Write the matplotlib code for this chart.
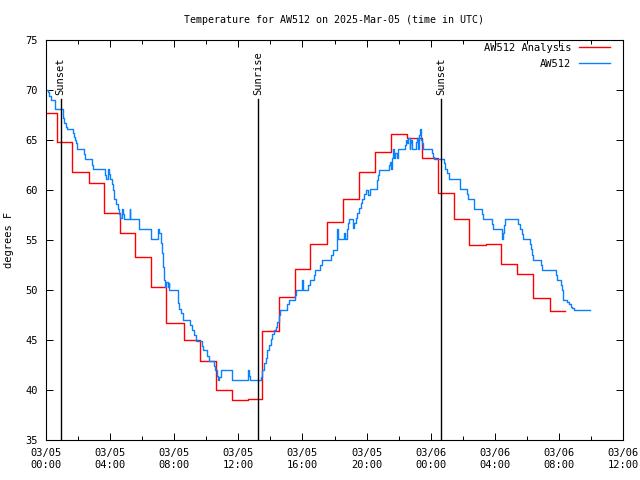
import matplotlib
matplotlib.use("Agg")
import matplotlib.pyplot as plt
from matplotlib.ticker import MultipleLocator, FuncFormatter

# hours since 2025-03-05 00:00 UTC
analysis_hours = [0.00, 0.66, 1.63, 2.67, 3.60, 4.59, 5.57, 6.56, 7.49, 8.58,
                  9.60, 10.60, 11.63, 12.60, 13.49, 14.52, 15.56, 16.49, 17.52,
                  18.50, 19.51, 20.53, 21.52, 22.53, 23.46, 24.46, 25.43, 26.42,
                  27.45, 28.39, 29.40, 30.40, 31.43, 32.38]
analysis_temp = [67.7, 64.8, 61.8, 60.7, 57.7, 55.7, 53.3, 50.3, 46.7, 45.0,
                 42.9, 40.0, 39.0, 39.1, 45.9, 49.3, 52.1, 54.6, 56.8,
                 59.1, 61.8, 63.8, 65.6, 65.2, 63.2, 59.7, 57.1, 54.5,
                 54.6, 52.6, 51.6, 49.2, 47.9, 47.9]

obs_hours = [0.00, 0.14, 0.20, 0.31, 0.56, 1.04, 1.07, 1.14, 1.22, 1.28,
             1.66, 1.74, 1.80, 1.86, 1.91, 2.38, 2.44, 2.87, 2.94, 3.66,
             3.77, 3.87, 3.93, 4.02, 4.12, 4.18, 4.25, 4.39, 4.47, 4.55,
             4.64, 4.74, 4.80, 4.84, 5.21, 5.26, 5.82, 6.56, 6.97, 7.08,
             7.18, 7.24, 7.32, 7.39, 7.43, 7.49, 7.59, 7.65, 7.70, 8.21,
             8.32, 8.42, 8.57, 8.98, 9.08, 9.25, 9.35, 9.73, 9.81, 10.07,
             10.14, 10.49, 10.55, 10.66, 10.74, 10.80, 10.91, 11.59, 12.58, 12.66,
             12.72, 13.39, 13.49, 13.59, 13.70, 13.80, 13.90, 14.01, 14.11, 14.21,
             14.32, 14.42, 14.52, 14.59, 15.04, 15.15, 15.52, 15.62, 16.00, 16.03,
             16.34, 16.45, 16.70, 16.80, 17.11, 17.21, 17.80, 17.88, 18.14, 18.17,
             18.22, 18.60, 18.65, 18.75, 18.81, 18.87, 18.93, 19.18, 19.24, 19.35,
             19.43, 19.53, 19.63, 19.74, 19.86, 19.97, 20.11, 20.22, 20.63, 20.69,
             20.79, 21.40, 21.46, 21.52, 21.56, 21.62, 21.66, 21.72, 21.77, 21.91,
             21.97, 22.39, 22.45, 22.53, 22.59, 22.70, 22.74, 22.80, 22.86, 23.07,
             23.15, 23.21, 23.28, 23.32, 23.38, 23.46, 23.52, 24.10, 24.14, 24.21,
             24.83, 24.91, 25.01, 25.12, 25.80, 25.84, 26.27, 26.36, 26.69, 26.73,
             27.19, 27.25, 27.83, 27.87, 28.43, 28.47, 28.51, 28.60, 28.66, 29.48,
             29.56, 29.67, 29.79, 30.21, 30.27, 30.33, 30.40, 30.91, 30.97, 31.84,
             31.90, 32.15, 32.21, 32.26, 32.28, 32.52, 32.63, 32.73, 32.83, 32.94,
             33.97]
obs_temp = [70.0, 69.8, 69.4, 69.0, 68.1, 67.7, 67.2, 66.7, 66.3, 66.1,
            65.7, 65.3, 65.0, 64.7, 64.1, 63.6, 63.1, 62.5, 62.1, 61.5,
            61.1, 62.1, 61.6, 61.1, 60.6, 60.0, 59.1, 58.6, 58.1, 57.6,
            57.2, 58.1, 57.6, 57.1, 58.1, 57.1, 56.1, 55.1, 56.1, 55.7,
            54.7, 53.7, 52.3, 51.0, 50.3, 50.8, 50.3, 50.7, 50.0, 48.7,
            48.1, 47.7, 47.0, 46.5, 46.0, 45.5, 44.9, 44.4, 44.0, 43.4,
            42.9, 42.4, 42.0, 41.4, 41.0, 41.3, 42.0, 41.0, 42.0, 41.4,
            41.0, 41.3, 42.0, 42.7, 43.2, 44.0, 44.5, 45.1, 45.6, 46.0,
            46.3, 46.8, 47.5, 48.0, 48.6, 49.0, 49.5, 50.0, 51.0, 50.0,
            50.5, 51.0, 51.5, 52.0, 52.5, 53.0, 53.5, 54.0, 55.0, 56.1,
            55.1, 55.7, 55.1, 55.6, 56.1, 56.7, 57.1, 56.2, 56.7, 57.2,
            57.7, 58.2, 58.7, 59.1, 59.6, 60.0, 59.5, 60.1, 61.0, 61.5,
            62.0, 62.5, 62.8, 62.1, 63.2, 63.8, 64.1, 63.2, 63.7, 63.2,
            64.1, 64.5, 65.0, 64.7, 65.2, 64.1, 64.7, 65.0, 64.1, 64.8,
            65.2, 64.1, 65.5, 66.1, 65.0, 64.7, 64.1, 63.7, 63.3, 63.1,
            62.7, 62.1, 61.7, 61.1, 60.7, 60.1, 59.6, 59.1, 58.6, 58.1,
            57.6, 57.1, 56.6, 56.1, 55.5, 55.1, 55.7, 56.5, 57.1, 56.6,
            56.1, 55.6, 55.1, 54.6, 54.1, 53.5, 53.0, 52.5, 52.0, 51.5,
            51.0, 50.5, 50.0, 49.5, 49.0, 48.8, 48.6, 48.3, 48.2, 48.0,
            48.0]

sun_hours = [0.91, 13.23, 24.65]
sun_labels = ["Sunset", "Sunrise", "Sunset"]

days = ["03/05", "03/06"]

plt.rcParams['font.family'] = ['DejaVu Sans Mono']
plt.rcParams['font.size'] = 7

fig = plt.figure(figsize=(6.4, 4.8), dpi=100)
ax = fig.add_axes([46/640, 40/480, 577/640, 400/480])

ax.step(analysis_hours, analysis_temp, where='post', color='#ff0000', lw=1.0, label='AW512 Analysis')
ax.step(obs_hours, obs_temp, where='post', color='#0a80ff', lw=1.0, label='AW512')

for h, name in zip(sun_hours, sun_labels):
    ax.plot([h, h], [35, 69.1], color='black', lw=1.0)
    ax.text(h, 69.5, name, rotation=90, ha='center', va='bottom', fontsize=7.5)

ax.set_xlim(0, 36)
ax.set_ylim(35, 75)
ax.xaxis.set_major_locator(MultipleLocator(4))
ax.xaxis.set_minor_locator(MultipleLocator(2))
ax.yaxis.set_major_locator(MultipleLocator(5))

def fmt_time(x, pos):
    d = int(x // 24)
    return f"{days[min(d, 1)]}\n{int(x % 24):02d}:00"

ax.xaxis.set_major_formatter(FuncFormatter(fmt_time))
ax.tick_params(which='both', direction='in', top=True, right=True, width=0.7, labelsize=7.5)
ax.tick_params(which='major', length=5, pad=6)
ax.tick_params(which='minor', length=3)
for s in ax.spines.values():
    s.set_linewidth(0.8)

ax.set_ylabel('degrees F', fontsize=7.5, labelpad=8)
ax.set_title('Temperature for AW512 on 2025-Mar-05 (time in UTC)', fontsize=7.2, pad=12)
ax.legend(loc='upper right', bbox_to_anchor=(0.984, 1.003), frameon=False, markerfirst=False,
          handlelength=2.9, borderaxespad=0, labelspacing=0.55, handletextpad=0.8, fontsize=7.5)

fig.savefig('out.png', dpi=100)
